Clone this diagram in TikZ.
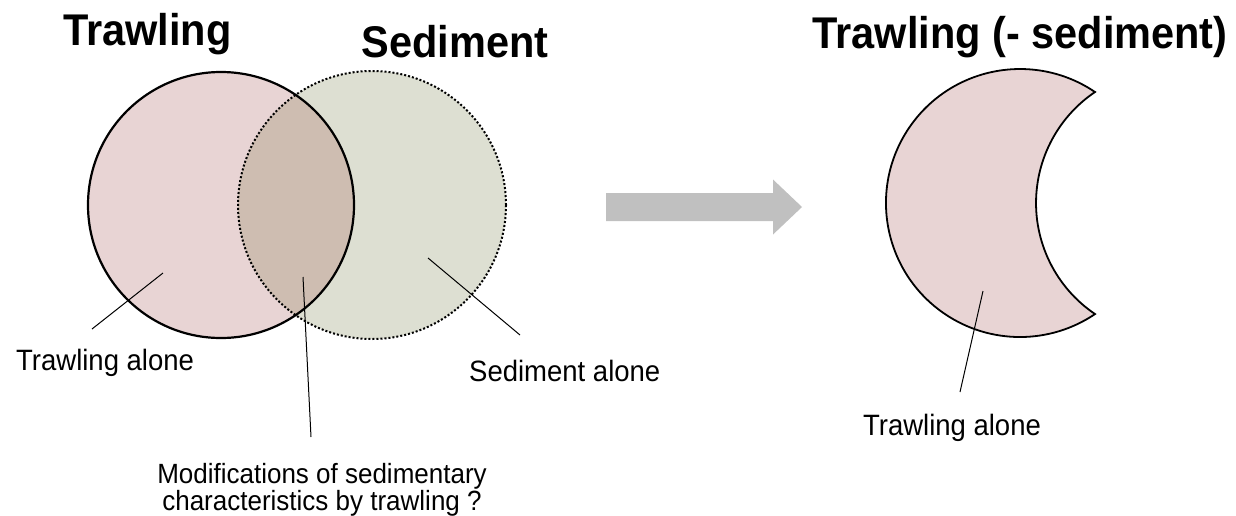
\documentclass[tikz,border=0pt]{standalone}
\usepackage{fontspec}
\setmainfont{Liberation Sans}
\usepackage{xcolor}
\usepackage{graphicx}
\usetikzlibrary{positioning}
\definecolor{cTrawl}{HTML}{E8D4D4}
\definecolor{cSed}{HTML}{DDDFD2}
\definecolor{cBoth}{HTML}{CEBDB1}
\definecolor{cArrow}{HTML}{C0C0C0}
\definecolor{cLine}{HTML}{000000}
\newcommand{\hi}[1]{\scalebox{1}[1.07]{#1}}
\tikzset{
  ttl/.style   = {font=\fontsize{41.5}{49}\selectfont\bfseries, inner sep=0pt, anchor=base},
  lbl/.style   = {font=\fontsize{27.5}{32}\selectfont, inner sep=0pt, anchor=base west},
  rim/.style   = {draw=cLine, line width=2.2pt},
  dotrim/.style = {draw=cLine, line width=2pt, dash pattern=on 2pt off 2pt},
  lead/.style  = {draw=cLine, line width=1pt},
}

\begin{document}
\begin{tikzpicture}[x=1pt, y=-1pt]
      \useasboundingbox (0,0) rectangle (1236,515);
      \fill[white] (0,0) rectangle (1236,515);

      % ---- the two sets ----
      \coordinate (cT) at (221,205);
      \coordinate (cS) at (372,205);
      \fill[cTrawl] (cT) circle[radius=133pt];
      \fill[cSed] (cS) circle[radius=134pt];
      \begin{scope}
        \clip (cT) circle[radius=133pt];
        \fill[cBoth] (cS) circle[radius=134pt];
      \end{scope}
      \draw[rim] (cT) circle[radius=133pt];
      \draw[dotrim] (cS) circle[radius=134pt];

      \node[ttl] (tTrawl) at (147.5,45) {\hi{Trawling}};
      \node[ttl] (tSed) at (455,57) {\hi{Sediment}};

      % ---- labels of the venn ----
      \node[lbl] (trAlone) at (16,370) {\hi{Trawling alone}};
      \node[lbl] (sedAlone) at (469,381) {\hi{Sediment alone}};
      \node[font=\fontsize{26}{27}\selectfont, inner sep=0pt, anchor=north, align=center]
        (modif) at (322,463) {\hi{Modifications of sedimentary}\\\hi{characteristics by trawling ?}};
      \coordinate (trIn) at (163,273);
      \coordinate (trOut) at (92,329);
      \coordinate (bothIn) at (303,277);
      \coordinate (bothOut) at (311,437);
      \coordinate (sedIn) at (428,258);
      \coordinate (sedOut) at (520,335);
      \draw[lead] (trIn) -- (trOut);
      \draw[lead] (bothIn) -- (bothOut);
      \draw[lead] (sedIn) -- (sedOut);

      % ---- the arrow ----
      \fill[cArrow] (606,193) -- (773,193) -- (773,179.5) -- (802,207)
        -- (773,234.5) -- (773,221) -- (606,221) -- cycle;

      % ---- right: trawling minus sediment ----
      \coordinate (mTop) at (1095,92);
      \filldraw[fill=cTrawl, draw=cLine, line width=1.8pt] (mTop)
        arc[start angle=55.95, end angle=304.05, radius=134pt]
        arc[start angle=235.95, end angle=124.05, radius=134pt] -- cycle;
      \node[ttl] (tMinus) at (1020,48) {\hi{Trawling (- sediment)}};
      \node[lbl, anchor=base] (mAlone) at (952,435) {\hi{Trawling alone}};
      \coordinate (mIn) at (983,291);
      \coordinate (mOut) at (960,392);
      \draw[lead] (mIn) -- (mOut);
    \end{tikzpicture}
\end{document}
